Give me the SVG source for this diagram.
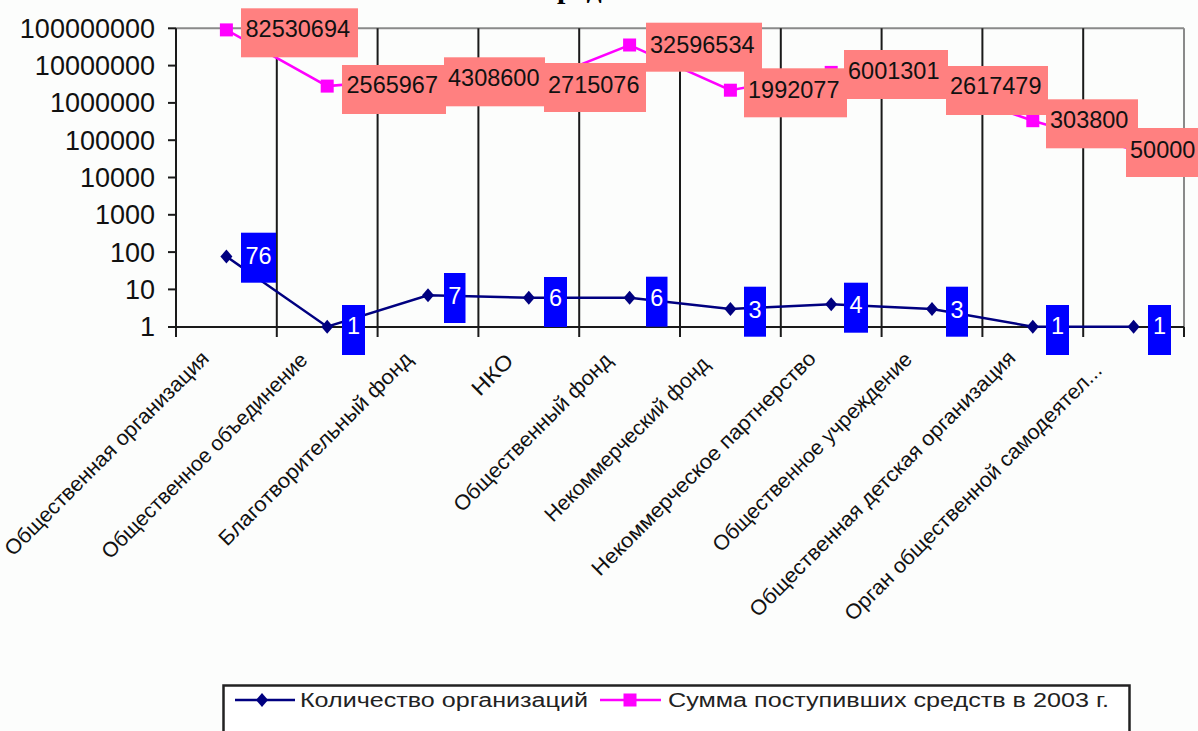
<svg xmlns="http://www.w3.org/2000/svg" width="1198" height="731" viewBox="0 0 1198 731">
<style>
.ax{font-family:"Liberation Sans",Arial,sans-serif;font-size:27px;fill:#111;text-anchor:end}
.cat{font-family:"Liberation Sans",Arial,sans-serif;font-size:21px;fill:#111}
.sl{font-family:"Liberation Sans",Arial,sans-serif;font-size:23.5px;fill:#111}
.bl{font-family:"Liberation Sans",Arial,sans-serif;font-size:23.5px;fill:#fff;text-anchor:middle}
.lg{font-family:"Liberation Sans",Arial,sans-serif;font-size:20px;fill:#222}
.grid{stroke:#1a1a1a;stroke-width:2}
.sbox{fill:#ff8080}
.bbox{fill:#0000ff}
</style>
<defs>
<path id="dia" d="M0,-7 L6,0 L0,7 L-6,0 Z" fill="#000080"/>
<rect id="sq" x="-6.5" y="-6.5" width="13" height="13" fill="#ff00ff"/>
</defs>
<rect x="0" y="0" width="1198" height="731" fill="#fcfdfc"/>
<text x="557" y="-2" font-family="'Liberation Serif',serif" font-weight="bold" font-size="30" fill="#000">ред</text>

<g id="plot-frame">
<line x1="176" y1="28.3" x2="1184" y2="28.3" stroke="#8a8a8a" stroke-width="2"/>
<line x1="1184" y1="28.3" x2="1184" y2="327" stroke="#8a8a8a" stroke-width="2"/>
<line class="grid" x1="276.8" y1="28.3" x2="276.8" y2="337"/>
<line class="grid" x1="377.6" y1="28.3" x2="377.6" y2="337"/>
<line class="grid" x1="478.4" y1="28.3" x2="478.4" y2="337"/>
<line class="grid" x1="579.2" y1="28.3" x2="579.2" y2="337"/>
<line class="grid" x1="680" y1="28.3" x2="680" y2="337"/>
<line class="grid" x1="780.8" y1="28.3" x2="780.8" y2="337"/>
<line class="grid" x1="881.6" y1="28.3" x2="881.6" y2="337"/>
<line class="grid" x1="982.4" y1="28.3" x2="982.4" y2="337"/>
<line class="grid" x1="1083.2" y1="28.3" x2="1083.2" y2="337"/>
<line class="grid" x1="1184" y1="327" x2="1184" y2="337"/>
<line class="grid" x1="176" y1="28.3" x2="176" y2="337"/>
<line class="grid" x1="168" y1="327" x2="1184" y2="327"/>
<g class="grid">
<line x1="168" y1="289.4" x2="176" y2="289.4"/>
<line x1="168" y1="252.1" x2="176" y2="252.1"/>
<line x1="168" y1="214.8" x2="176" y2="214.8"/>
<line x1="168" y1="177.5" x2="176" y2="177.5"/>
<line x1="168" y1="140.2" x2="176" y2="140.2"/>
<line x1="168" y1="102.9" x2="176" y2="102.9"/>
<line x1="168" y1="65.6" x2="176" y2="65.6"/>
<line x1="168" y1="28.3" x2="176" y2="28.3"/>
</g>
</g>

<g id="y-axis-labels">
<text class="ax" x="155" y="336.2">1</text>
<text class="ax" x="155" y="298.9">10</text>
<text class="ax" x="155" y="261.6">100</text>
<text class="ax" x="155" y="224.3">1000</text>
<text class="ax" x="155" y="187">10000</text>
<text class="ax" x="155" y="149.7">100000</text>
<text class="ax" x="155" y="112.4">1000000</text>
<text class="ax" x="155" y="75.1">10000000</text>
<text class="ax" x="155" y="37.8">100000000</text>
</g>

<g id="x-axis-labels">
<text class="cat" transform="translate(13,557) rotate(-45)" textLength="279" lengthAdjust="spacingAndGlyphs">Общественная организация</text>
<text class="cat" transform="translate(110,560) rotate(-45)" textLength="281" lengthAdjust="spacingAndGlyphs">Общественное объединение</text>
<text class="cat" transform="translate(227,547) rotate(-45)" textLength="264" lengthAdjust="spacingAndGlyphs">Благотворительный фонд</text>
<text class="cat" transform="translate(480,397) rotate(-45)" textLength="49" lengthAdjust="spacingAndGlyphs">НКО</text>
<text class="cat" transform="translate(462,513) rotate(-45)" textLength="214" lengthAdjust="spacingAndGlyphs">Общественный фонд</text>
<text class="cat" transform="translate(553,523) rotate(-45)" textLength="223" lengthAdjust="spacingAndGlyphs">Некоммерческий фонд</text>
<text class="cat" transform="translate(600,577) rotate(-45)" textLength="307" lengthAdjust="spacingAndGlyphs">Некоммерческое партнерство</text>
<text class="cat" transform="translate(721,553) rotate(-45)" textLength="272" lengthAdjust="spacingAndGlyphs">Общественное учреждение</text>
<text class="cat" transform="translate(758,618) rotate(-45)" textLength="366" lengthAdjust="spacingAndGlyphs">Общественная детская организация</text>
<text class="cat" transform="translate(853,622) rotate(-45)" textLength="354" lengthAdjust="spacingAndGlyphs">Орган общественной самодеятел...</text>
</g>

<g id="connectors">
<polyline fill="none" stroke="#ff00ff" stroke-width="2.5" points="226.4,29.9 327.2,86.1 428,77.7 528.8,85.2 629.6,45 730.4,90.2 831.2,72.4 932,85.8 1032.8,120.7 1133.6,149.9"/>
<polyline fill="none" stroke="#000080" stroke-width="2.5" points="226.4,256.5 327.2,326.7 428,295.2 528.8,297.7 629.6,297.7 730.4,308.9 831.2,304.2 932,308.9 1032.8,326.7 1133.6,326.7"/>
</g>

<g id="sum-markers">
<use href="#sq" x="226.4" y="29.9"/>
<use href="#sq" x="327.2" y="86.1"/>
<use href="#sq" x="428" y="77.7"/>
<use href="#sq" x="528.8" y="85.2"/>
<use href="#sq" x="629.6" y="45"/>
<use href="#sq" x="730.4" y="90.2"/>
<use href="#sq" x="831.2" y="72.4"/>
<use href="#sq" x="932" y="85.8"/>
<use href="#sq" x="1032.8" y="120.7"/>
<use href="#sq" x="1133.6" y="149.9"/>
</g>
<g id="count-markers">
<use href="#dia" x="226.4" y="256.5"/>
<use href="#dia" x="327.2" y="326.7"/>
<use href="#dia" x="428" y="295.2"/>
<use href="#dia" x="528.8" y="297.7"/>
<use href="#dia" x="629.6" y="297.7"/>
<use href="#dia" x="730.4" y="308.9"/>
<use href="#dia" x="831.2" y="304.2"/>
<use href="#dia" x="932" y="308.9"/>
<use href="#dia" x="1032.8" y="326.7"/>
<use href="#dia" x="1133.6" y="326.7"/>
</g>

<g id="sum-labels">
<g id="s1"><rect class="sbox" x="241" y="8.3" width="117" height="49"/><text class="sl" x="245.5" y="37.4">82530694</text></g>
<g id="s2"><rect class="sbox" x="342" y="65" width="104" height="49"/><text class="sl" x="346.5" y="93.4">2565967</text></g>
<g id="s3"><rect class="sbox" x="444" y="57.3" width="101" height="49"/><text class="sl" x="448" y="85.7">4308600</text></g>
<g id="s4"><rect class="sbox" x="544" y="63" width="102" height="49"/><text class="sl" x="548" y="93.4">2715076</text></g>
<g id="s5"><rect class="sbox" x="646" y="22.7" width="116" height="49"/><text class="sl" x="650" y="53.4">32596534</text></g>
<g id="s6"><rect class="sbox" x="744" y="68.3" width="103" height="49"/><text class="sl" x="748" y="97.7">1992077</text></g>
<g id="s7"><rect class="sbox" x="844" y="50" width="104" height="49"/><text class="sl" x="848" y="79.4">6001301</text></g>
<g id="s8"><rect class="sbox" x="946" y="66" width="102" height="49"/><text class="sl" x="950" y="94.4">2617479</text></g>
<g id="s9"><rect class="sbox" x="1046" y="99.3" width="92" height="49"/><text class="sl" x="1050" y="128.4">303800</text></g>
<g id="s10"><rect class="sbox" x="1126" y="128" width="77" height="49"/><text class="sl" x="1130" y="157.7">50000</text></g>
</g>

<g id="count-labels">
<g id="c1"><rect class="bbox" x="241" y="232.7" width="35" height="50"/><text class="bl" x="258.5" y="264.4">76</text></g>
<g id="c2"><rect class="bbox" x="342" y="305" width="23" height="50"/><text class="bl" x="353.5" y="334.4">1</text></g>
<g id="c3"><rect class="bbox" x="444" y="273" width="21.5" height="50"/><text class="bl" x="454.7" y="304.4">7</text></g>
<g id="c4"><rect class="bbox" x="544" y="277" width="23" height="50"/><text class="bl" x="555.5" y="305.6">6</text></g>
<g id="c5"><rect class="bbox" x="646" y="276.7" width="21.5" height="50"/><text class="bl" x="656.7" y="305.6">6</text></g>
<g id="c6"><rect class="bbox" x="744" y="286.7" width="22" height="50"/><text class="bl" x="755" y="317.5">3</text></g>
<g id="c7"><rect class="bbox" x="844" y="282.7" width="24" height="50"/><text class="bl" x="856" y="313.4">4</text></g>
<g id="c8"><rect class="bbox" x="946" y="286.7" width="22" height="50"/><text class="bl" x="957" y="317.5">3</text></g>
<g id="c9"><rect class="bbox" x="1046" y="305" width="23" height="50"/><text class="bl" x="1057.5" y="334.4">1</text></g>
<g id="c10"><rect class="bbox" x="1148" y="305" width="23" height="50"/><text class="bl" x="1159.5" y="334.4">1</text></g>
</g>

<g id="legend">
<rect x="223.5" y="685.5" width="906" height="60" fill="#ffffff" stroke="#222" stroke-width="2.5"/>
<line x1="235" y1="700" x2="295" y2="700" stroke="#000080" stroke-width="2.5"/>
<use href="#dia" x="262" y="700"/>
<text class="lg" x="300" y="706.7" textLength="288" lengthAdjust="spacingAndGlyphs">Количество организаций</text>
<line x1="600" y1="700" x2="661" y2="700" stroke="#ff00ff" stroke-width="2.5"/>
<use href="#sq" x="630" y="700"/>
<text class="lg" x="668" y="706.7" textLength="441" lengthAdjust="spacingAndGlyphs">Сумма поступивших средств в 2003 г.</text>
</g>
</svg>
